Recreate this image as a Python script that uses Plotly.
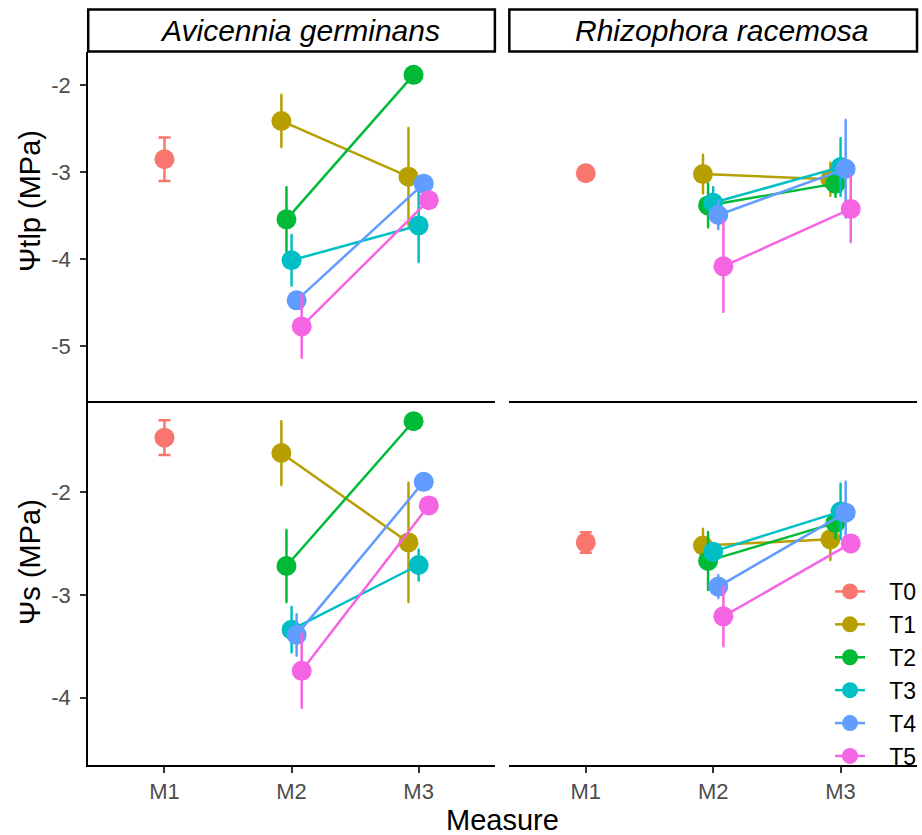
import plotly.graph_objects as go

W, H = 922, 835

# ---------------- data ----------------
measures = ["M1", "M2", "M3"]
treatments = ["T0", "T1", "T2", "T3", "T4", "T5"]
colors = ["#F8766D", "#B79F00", "#00BA38", "#00BFC4", "#619CFF", "#F564E3"]
species = ["Avicennia germinans", "Rhizophora racemosa"]
row_titles = ["Ψtlp (MPa)", "Ψs (MPa)"]
x_title = "Measure"

tlp_tickvals = [-2, -3, -4, -5]
tlp_ticktext = ["-2", "-3", "-4", "-5"]
s_tickvals = [-2, -3, -4]
s_ticktext = ["-2", "-3", "-4"]

# T0 is measured at M1 only; T1..T5 at M2 and M3
# Ψtlp - Avicennia germinans
tlp_avi_t0 = -2.85
tlp_avi_t0_se = 0.25
tlp_avi_m2 = [-2.41, -3.54, -4.01, -4.47, -4.77]
tlp_avi_m2_se = [0.30, 0.37, 0.29, 0.08, 0.36]
tlp_avi_m3 = [-3.05, -1.88, -3.61, -3.13, -3.32]
tlp_avi_m3_se = [0.56, 0.05, 0.42, 0.06, 0.08]

# Ψtlp - Rhizophora racemosa
tlp_rhi_t0 = -3.01
tlp_rhi_t0_se = 0.04
tlp_rhi_m2 = [-3.02, -3.38, -3.35, -3.49, -4.08]
tlp_rhi_m2_se = [0.22, 0.25, 0.18, 0.16, 0.52]
tlp_rhi_m3 = [-3.08, -3.13, -2.94, -2.96, -3.42]
tlp_rhi_m3_se = [0.19, 0.15, 0.33, 0.56, 0.38]

# Ψs - Avicennia germinans
s_avi_t0 = -1.47
s_avi_t0_se = 0.17
s_avi_m2 = [-1.62, -2.72, -3.34, -3.39, -3.74]
s_avi_m2_se = [0.31, 0.35, 0.22, 0.20, 0.36]
s_avi_m3 = [-2.49, -1.31, -2.71, -1.90, -2.13]
s_avi_m3_se = [0.58, 0.05, 0.15, 0.06, 0.06]

# Ψs - Rhizophora racemosa
s_rhi_t0 = -2.49
s_rhi_t0_se = 0.10
s_rhi_m2 = [-2.52, -2.67, -2.58, -2.92, -3.21]
s_rhi_m2_se = [0.16, 0.28, 0.08, 0.11, 0.29]
s_rhi_m3 = [-2.46, -2.30, -2.19, -2.20, -2.50]
s_rhi_m3_se = [0.20, 0.15, 0.27, 0.30, 0.06]

panels = [
    # (axis suffix, t0, t0_se, m2, m2_se, m3, m3_se)
    ("", tlp_avi_t0, tlp_avi_t0_se, tlp_avi_m2, tlp_avi_m2_se, tlp_avi_m3, tlp_avi_m3_se),
    ("2", tlp_rhi_t0, tlp_rhi_t0_se, tlp_rhi_m2, tlp_rhi_m2_se, tlp_rhi_m3, tlp_rhi_m3_se),
    ("3", s_avi_t0, s_avi_t0_se, s_avi_m2, s_avi_m2_se, s_avi_m3, s_avi_m3_se),
    ("4", s_rhi_t0, s_rhi_t0_se, s_rhi_m2, s_rhi_m2_se, s_rhi_m3, s_rhi_m3_se),
]

# ---------------- figure ----------------
FONT = "Liberation Sans, Arial, Helvetica, sans-serif"
dodge_width = 0.2
n_dodge = 5
LW = 2.5

fig = go.Figure()
for p_i, (sfx, t0, t0se, m2, m2se, m3, m3se) in enumerate(panels):
    xa, ya = "x" + sfx, "y" + sfx
    show = p_i == 0
    # T0 at M1
    fig.add_trace(go.Scatter(
        x=[measures.index("M1") + 1], y=[t0],
        error_y=dict(type="data", array=[t0se], visible=True,
                     color=colors[0], thickness=LW, width=6),
        mode="lines+markers", name="\u00a0\u00a0\u00a0" + treatments[0],
        legendgroup=treatments[0], showlegend=show,
        line=dict(color=colors[0], width=LW),
        marker=dict(color=colors[0], size=20),
        xaxis=xa, yaxis=ya,
    ))
    for k in range(5):
        off = (k - (n_dodge - 1) / 2) * dodge_width / n_dodge
        c = colors[k + 1]
        fig.add_trace(go.Scatter(
            x=[measures.index("M2") + 1 + off, measures.index("M3") + 1 + off],
            y=[m2[k], m3[k]],
            error_y=dict(type="data", array=[m2se[k], m3se[k]], visible=True,
                         color=c, thickness=LW, width=1),
            mode="lines+markers", name="\u00a0\u00a0\u00a0" + treatments[k + 1],
            legendgroup=treatments[k + 1], showlegend=show,
            line=dict(color=c, width=LW),
            marker=dict(color=c, size=20),
            xaxis=xa, yaxis=ya,
        ))

def px_x(p):
    return p / W

def px_y(p):
    return 1 - p / H

left_dom = [px_x(88.5), px_x(496.5)]
right_dom = [px_x(511), px_x(920)]
top_dom = [px_y(400.7), px_y(52)]
bot_dom = [px_y(765), px_y(402)]
tlp_range = [-5.623, -1.618]
s_range = [-4.657, -1.123]

TICKFONT = dict(family=FONT, size=22, color="#4D4D4D")
common_x = dict(range=[0.4, 3.6], showgrid=False, zeroline=False,
                showline=True, linecolor="black", linewidth=2,
                tickvals=[1, 2, 3], ticktext=measures, fixedrange=True)
xtop = dict(common_x, ticks="", showticklabels=False)
xbot = dict(common_x, ticks="outside", ticklen=6, tickwidth=2, tickcolor="#333333",
            tickfont=TICKFONT, ticklabelstandoff=0)
yleft = dict(showgrid=False, zeroline=False, showline=True, linecolor="black", linewidth=2,
             ticks="outside", ticklen=6, tickwidth=2, tickcolor="#333333",
             tickfont=TICKFONT, ticklabelstandoff=5)
yright = dict(showgrid=False, zeroline=False, showline=False, ticks="", showticklabels=False)

fig.update_layout(
    width=W, height=H, margin=dict(l=0, r=0, t=0, b=0),
    paper_bgcolor="white", plot_bgcolor="white",
    font=dict(family=FONT, color="black"),
    xaxis=dict(xtop, domain=left_dom, anchor="y"),
    xaxis2=dict(xtop, domain=right_dom, anchor="y2"),
    xaxis3=dict(xbot, domain=left_dom, anchor="y3"),
    xaxis4=dict(xbot, domain=right_dom, anchor="y4"),
    yaxis=dict(yleft, domain=top_dom, anchor="x", range=tlp_range,
               tickvals=tlp_tickvals, ticktext=tlp_ticktext),
    yaxis2=dict(yright, domain=top_dom, anchor="x2", range=tlp_range),
    yaxis3=dict(yleft, domain=bot_dom, anchor="x3", range=s_range,
                tickvals=s_tickvals, ticktext=s_ticktext),
    yaxis4=dict(yright, domain=bot_dom, anchor="x4", range=s_range),
    showlegend=True,
    legend=dict(x=px_x(833), y=px_y(570), xanchor="left", yanchor="top",
                font=dict(family=FONT, size=23, color="black"),
                bgcolor="rgba(0,0,0,0)", tracegroupgap=0, itemsizing="trace"),
)

# strips
shapes = []
annotations = []
for xr, name in zip(["x domain", "x2 domain"], species):
    shapes.append(dict(type="rect", xref=xr, yref="paper", x0=0, x1=1,
                       y0=px_y(51.5), y1=px_y(9.5),
                       line=dict(color="black", width=2.5), fillcolor="white", layer="above"))
    annotations.append(dict(xref=xr, yref="paper", x=0.5, y=px_y(31), xshift=8,
                            text=name, showarrow=False, xanchor="center", yanchor="middle",
                            font=dict(family=FONT, size=30, color="black", style="italic")))

annotations.append(dict(xref="paper", yref="paper", x=px_x(30), y=px_y(201),
                        text=row_titles[0], textangle=-90, showarrow=False,
                        xanchor="center", yanchor="middle",
                        font=dict(family=FONT, size=29, color="black")))
annotations.append(dict(xref="paper", yref="paper", x=px_x(30), y=px_y(562),
                        text=row_titles[1], textangle=-90, showarrow=False,
                        xanchor="center", yanchor="middle",
                        font=dict(family=FONT, size=29, color="black")))
annotations.append(dict(xref="paper", yref="paper", x=px_x(504), y=px_y(820),
                        text=x_title, showarrow=False, xanchor="center", yanchor="middle",
                        font=dict(family=FONT, size=29, color="black")))
fig.update_layout(shapes=shapes, annotations=annotations)

fig.write_html("out.html", config={"displayModeBar": False},
               post_script="document.body.style.margin='0px';document.body.style.overflow='hidden';")
